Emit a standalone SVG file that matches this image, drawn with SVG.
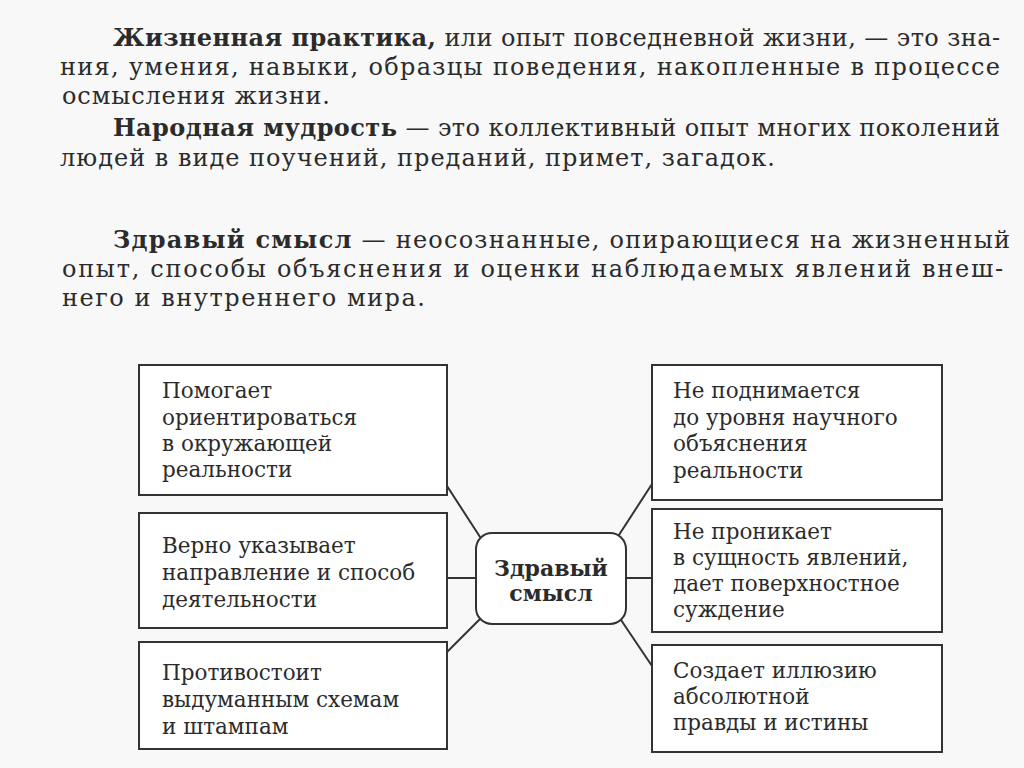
<svg xmlns="http://www.w3.org/2000/svg" width="1024" height="768" viewBox="0 0 1024 768">
<style>
.p{font-family:"DejaVu Serif","Liberation Serif",serif;font-size:24px;fill:#2b2b2b}
.b{font-weight:bold}
.t{font-family:"DejaVu Serif","Liberation Serif",serif;font-size:21.5px;fill:#2b2b2b}
.c{font-family:"DejaVu Serif","Liberation Serif",serif;font-size:22px;font-weight:bold;fill:#2b2b2b;text-anchor:middle}
.box{fill:#ffffff;stroke:#333333;stroke-width:2}
.ln{stroke:#333333;stroke-width:2;fill:none}
</style>
<rect width="1024" height="768" fill="#f8f8f8"/>
<g id="text-top">
<text class="p" x="113" y="46" textLength="887" lengthAdjust="spacing"><tspan class="b">Жизненная практика,</tspan> или опыт повседневной жизни, — это зна-</text>
<text class="p" x="60" y="75" textLength="940" lengthAdjust="spacing">ния, умения, навыки, образцы поведения, накопленные в процессе</text>
<text class="p" x="62" y="104" textLength="268" lengthAdjust="spacing">осмысления жизни.</text>
<text class="p" x="113" y="136" textLength="887" lengthAdjust="spacing"><tspan class="b">Народная мудрость</tspan> — это коллективный опыт многих поколений</text>
<text class="p" x="60" y="166" textLength="715" lengthAdjust="spacing">людей в виде поучений, преданий, примет, загадок.</text>
<text class="p" x="113" y="248" textLength="897" lengthAdjust="spacing"><tspan class="b">Здравый смысл</tspan> — неосознанные, опирающиеся на жизненный</text>
<text class="p" x="62" y="277" textLength="941" lengthAdjust="spacing">опыт, способы объяснения и оценки наблюдаемых явлений внеш-</text>
<text class="p" x="62" y="306" textLength="363" lengthAdjust="spacing">него и внутреннего мира.</text>
</g>
<g id="connectors">
<line class="ln" x1="447" y1="486" x2="482" y2="540"/>
<line class="ln" x1="447" y1="578" x2="476" y2="578"/>
<line class="ln" x1="447" y1="652" x2="482" y2="617"/>
<line class="ln" x1="652" y1="484" x2="617" y2="538"/>
<line class="ln" x1="626" y1="578" x2="652" y2="578"/>
<line class="ln" x1="652" y1="666" x2="619" y2="617"/>
</g>
<g id="center">
<rect class="box" x="476" y="533" width="150" height="91" rx="16"/>
<text class="c" x="551" y="576">Здравый</text>
<text class="c" x="551" y="601">смысл</text>
</g>
<g id="l1">
<rect class="box" x="139" y="365" width="308" height="130"/>
<text class="t"><tspan x="162" y="398">Помогает</tspan><tspan x="162" y="425">ориентироваться</tspan><tspan x="162" y="451">в окружающей</tspan><tspan x="162" y="477">реальности</tspan></text>
</g>
<g id="l2">
<rect class="box" x="139" y="513" width="308" height="115"/>
<text class="t"><tspan x="162" y="553">Верно указывает</tspan><tspan x="162" y="580">направление и способ</tspan><tspan x="162" y="607">деятельности</tspan></text>
</g>
<g id="l3">
<rect class="box" x="139" y="642" width="308" height="107"/>
<text class="t"><tspan x="162" y="680">Противостоит</tspan><tspan x="162" y="707">выдуманным схемам</tspan><tspan x="162" y="734">и штампам</tspan></text>
</g>
<g id="r1">
<rect class="box" x="652" y="365" width="290" height="135"/>
<text class="t"><tspan x="673" y="398">Не поднимается</tspan><tspan x="673" y="425">до уровня научного</tspan><tspan x="673" y="451">объяснения</tspan><tspan x="673" y="478">реальности</tspan></text>
</g>
<g id="r2">
<rect class="box" x="652" y="509" width="290" height="123"/>
<text class="t"><tspan x="673" y="539">Не проникает</tspan><tspan x="673" y="565">в сущность явлений,</tspan><tspan x="673" y="591">дает поверхностное</tspan><tspan x="673" y="617">суждение</tspan></text>
</g>
<g id="r3">
<rect class="box" x="652" y="645" width="290" height="107"/>
<text class="t"><tspan x="673" y="678">Создает иллюзию</tspan><tspan x="673" y="704">абсолютной</tspan><tspan x="673" y="730">правды и истины</tspan></text>
</g>
</svg>
